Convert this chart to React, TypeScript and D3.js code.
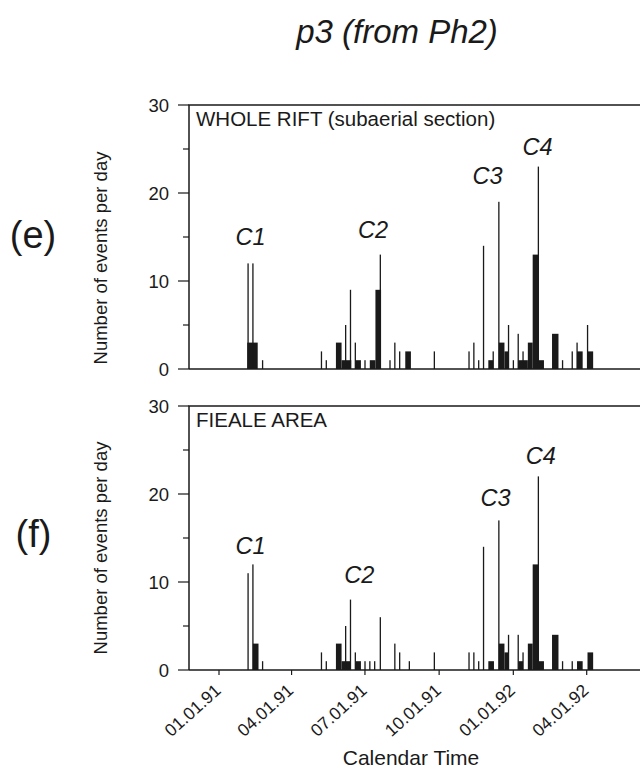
import React from "react";
import * as d3 from "d3";

// ---- data ----
const yTicks = [0, 10, 20, 30];
const yMinorTicks = [5, 15, 25];
const xTickDates = ["1991-01-01", "1991-04-01", "1991-07-01", "1991-10-01", "1992-01-01", "1992-04-01"];
const xTickLabels = ["01.01.91", "04.01.91", "07.01.91", "10.01.91", "01.01.92", "04.01.92"];

// daily counts: [date, events]
const wholeDaily: [string, number][] = [
  ["1991-02-06", 12], ["1991-02-12", 12], ["1991-02-24", 1],
  ["1991-05-08", 2], ["1991-05-14", 1], ["1991-06-07", 5], ["1991-06-13", 9], ["1991-06-19", 3],
  ["1991-07-01", 1], ["1991-07-20", 13], ["1991-08-01", 1], ["1991-08-07", 3], ["1991-08-13", 2],
  ["1991-09-25", 2], ["1991-11-07", 2], ["1991-11-13", 3], ["1991-11-19", 1], ["1991-11-25", 14],
  ["1991-12-07", 2], ["1991-12-14", 19], ["1991-12-26", 5], ["1992-01-01", 1], ["1992-01-07", 4],
  ["1992-01-13", 2], ["1992-02-01", 23], ["1992-03-02", 1], ["1992-03-14", 2], ["1992-03-20", 3],
  ["1992-04-02", 5],
];
// binned rates: [start, end, events per day]
const wholeBins: [string, string, number][] = [
  ["1991-02-05", "1991-02-18", 3], ["1991-05-26", "1991-06-02", 3], ["1991-06-02", "1991-06-14", 1],
  ["1991-06-19", "1991-06-26", 1], ["1991-07-07", "1991-07-14", 1], ["1991-07-14", "1991-07-21", 9],
  ["1991-08-20", "1991-08-27", 2], ["1991-12-01", "1991-12-07", 1], ["1991-12-14", "1991-12-21", 3],
  ["1991-12-21", "1991-12-26", 2], ["1992-01-07", "1992-01-19", 1], ["1992-01-19", "1992-01-25", 3],
  ["1992-01-25", "1992-02-01", 13], ["1992-02-01", "1992-02-08", 1], ["1992-02-18", "1992-02-26", 4],
  ["1992-03-20", "1992-03-27", 2], ["1992-04-02", "1992-04-09", 2],
];

const fiealeDaily: [string, number][] = [
  ["1991-02-06", 11], ["1991-02-12", 12], ["1991-02-24", 1],
  ["1991-05-08", 2], ["1991-05-14", 1], ["1991-06-07", 5], ["1991-06-13", 8], ["1991-06-19", 2],
  ["1991-07-01", 1], ["1991-07-07", 1], ["1991-07-13", 1], ["1991-07-20", 6], ["1991-08-07", 3],
  ["1991-08-13", 2], ["1991-08-25", 1], ["1991-09-25", 2], ["1991-11-07", 2], ["1991-11-13", 2],
  ["1991-11-19", 1], ["1991-11-25", 14], ["1991-12-14", 17], ["1991-12-26", 4], ["1992-01-07", 4],
  ["1992-01-13", 2], ["1992-02-01", 22], ["1992-03-02", 1], ["1992-03-14", 1],
];
const fiealeBins: [string, string, number][] = [
  ["1991-02-12", "1991-02-19", 3], ["1991-05-26", "1991-06-02", 3], ["1991-06-02", "1991-06-13", 1],
  ["1991-06-19", "1991-06-26", 1], ["1991-12-01", "1991-12-08", 1], ["1991-12-14", "1991-12-21", 3],
  ["1991-12-21", "1991-12-26", 2], ["1992-01-07", "1992-01-13", 1], ["1992-01-19", "1992-01-25", 3],
  ["1992-01-25", "1992-02-01", 12], ["1992-02-01", "1992-02-08", 1], ["1992-02-18", "1992-02-26", 4],
  ["1992-03-20", "1992-03-27", 1], ["1992-04-02", "1992-04-09", 2],
];

const wholeClusters: [string, string, number][] = [
  ["C1", "1991-02-09", 14.1], ["C2", "1991-07-11", 14.9], ["C3", "1991-11-30", 21.0], ["C4", "1992-01-31", 24.3],
];
const fiealeClusters: [string, string, number][] = [
  ["C1", "1991-02-09", 13.2], ["C2", "1991-06-24", 9.9], ["C3", "1991-12-10", 18.6], ["C4", "1992-02-04", 23.4],
];

const parse = d3.utcParse("%Y-%m-%d");
const FONT = "'Liberation Sans', Arial, sans-serif";
const INK = "#1a1a1a";

const x = d3
  .scaleUtc()
  .domain([parse("1991-01-01")!, parse("1992-04-01")!])
  .range([219, 586.7]);
const LEFT = 189;
const RIGHT = 660;

function Panel({ top, title, daily, bins, clusters, letter, labelY, showX }: any) {
  const y = d3.scaleLinear().domain([0, 30]).range([top + 264, top]);
  const base = y(0);
  return (
    <g>
      {bins.map(([s, e, v]: any, i: number) => (
        <rect key={"b" + i} x={x(parse(s)!)} width={x(parse(e)!) - x(parse(s)!)} y={y(v)} height={base - y(v)} fill={INK} />
      ))}
      {daily.map(([d, v]: any, i: number) => (
        <rect key={"d" + i} x={x(parse(d)!) - 0.6} width={1.3} y={y(v)} height={base - y(v)} fill={INK} />
      ))}
      <path d={`M${LEFT},${base}V${top}H${RIGHT}`} fill="none" stroke={INK} strokeWidth={1.5} />
      <line x1={LEFT} x2={RIGHT} y1={base} y2={base} stroke={INK} strokeWidth={1.5} />
      {yTicks.map((t) => (
        <g key={t}>
          <line x1={LEFT - 11} x2={LEFT} y1={y(t)} y2={y(t)} stroke={INK} strokeWidth={1.2} />
          <text x={169} y={y(t)} dy="0.36em" textAnchor="end" fontSize={18.5} fontFamily={FONT} fill={INK}>
            {t}
          </text>
        </g>
      ))}
      {yMinorTicks.map((t) => (
        <line key={"m" + t} x1={LEFT - 6} x2={LEFT} y1={y(t)} y2={y(t)} stroke={INK} strokeWidth={1.2} />
      ))}
      <text x={196} y={top + 21} fontSize={20.5} fontFamily={FONT} fill={INK}>
        {title}
      </text>
      {clusters.map(([c, d, v]: any) => (
        <text key={c} x={x(parse(d)!)} y={y(v)} textAnchor="middle" fontSize={23.5} fontStyle="italic" fontFamily={FONT} fill={INK}>
          {c}
        </text>
      ))}
      <text x={107} y={labelY} transform={`rotate(-90 107 ${labelY})`} textAnchor="middle" fontSize={18.5} fontFamily={FONT} fill={INK}>
        Number of events per day
      </text>
      <text x={letter[0]} y={letter[1]} textAnchor="middle" fontSize={38} fontFamily={FONT} fill={INK}>
        {letter[2]}
      </text>
      {showX &&
        xTickDates.map((d, i) => {
          const xx = x(parse(d)!);
          return (
            <g key={d}>
              <line x1={xx} x2={xx} y1={base} y2={base + 5} stroke={INK} strokeWidth={1.2} />
              <text
                transform={`translate(${xx + 3},${base + 22}) rotate(-42)`}
                textAnchor="end"
                fontSize={17.5}
                fontFamily={FONT}
                fill={INK}
              >
                {xTickLabels[i]}
              </text>
            </g>
          );
        })}
    </g>
  );
}

export default function App() {
  return (
    <svg width={640} height={776} style={{ position: "absolute", left: 0, top: 0, background: "#fff" }}>
      <rect width={640} height={776} fill="#fff" />
      <text x={397} y={43} textAnchor="middle" fontSize={33} fontStyle="italic" fontFamily={FONT} fill={INK}>
        p3 (from Ph2)
      </text>
      <Panel top={105} title="WHOLE RIFT (subaerial section)" daily={wholeDaily} bins={wholeBins} clusters={wholeClusters} letter={[33, 248, "(e)"]} labelY={258} showX={false} />
      <Panel top={406} title="FIEALE AREA" daily={fiealeDaily} bins={fiealeBins} clusters={fiealeClusters} letter={[33.5, 547, "(f)"]} labelY={548} showX={true} />
      <text x={411} y={765} textAnchor="middle" fontSize={21} fontFamily={FONT} fill={INK}>
        Calendar Time
      </text>
    </svg>
  );
}
